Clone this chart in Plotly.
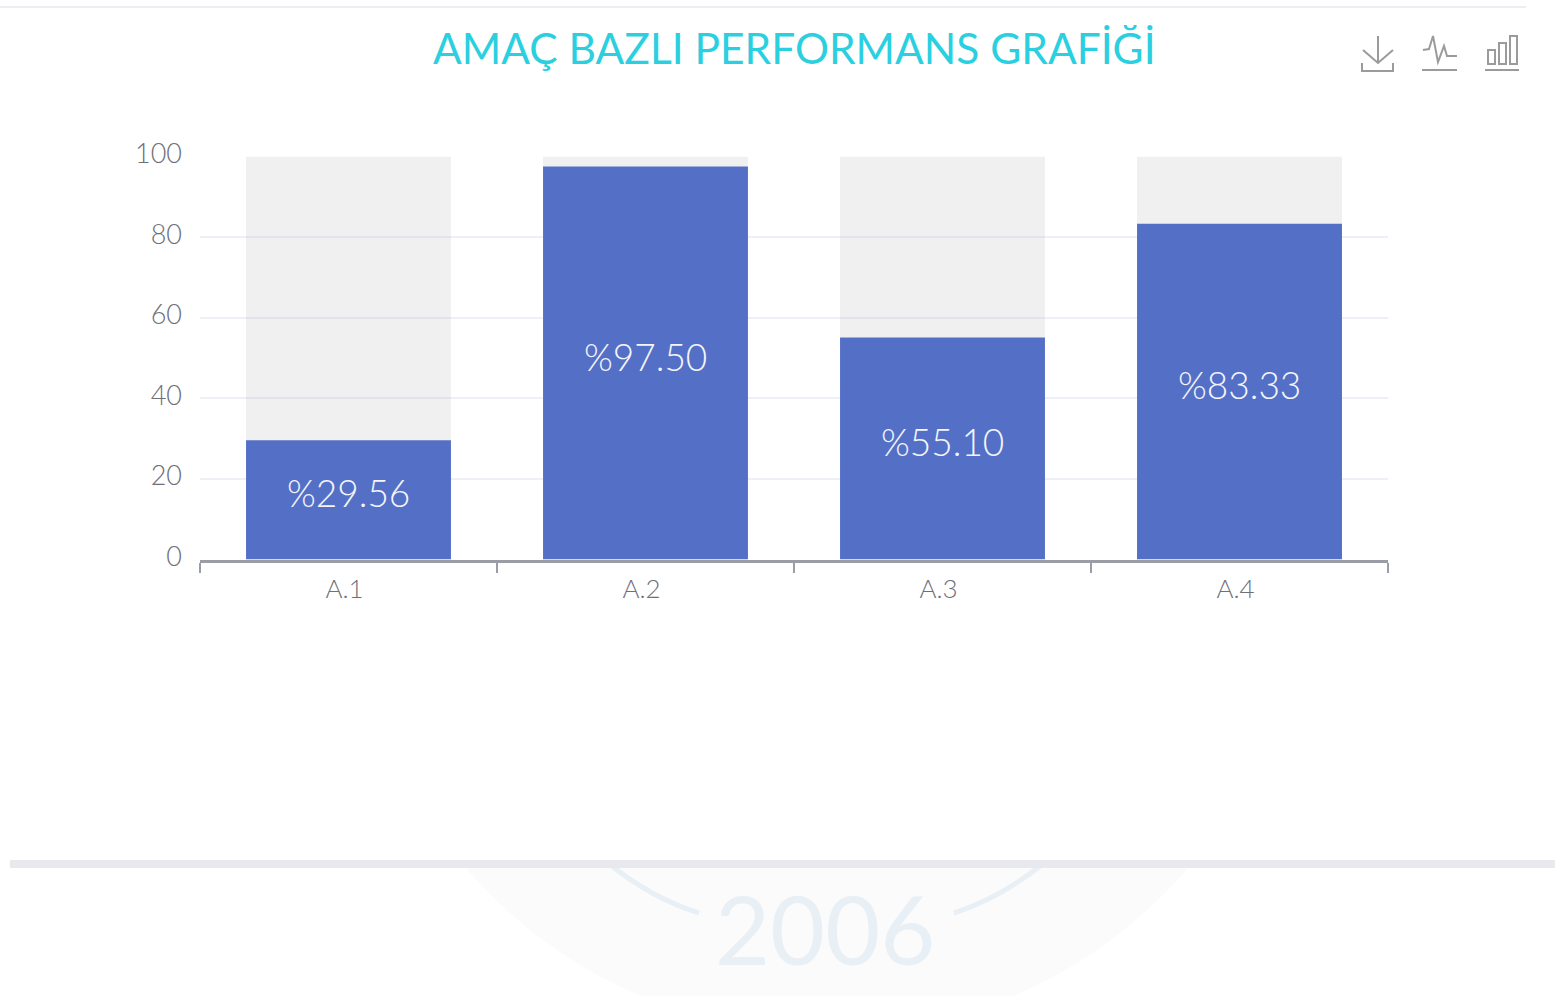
import plotly.graph_objects as go

categories = ["A.1", "A.2", "A.3", "A.4"]
values = [29.56, 97.50, 55.10, 83.33]
background = [100, 100, 100, 100]
y_ticks = [0, 20, 40, 60, 80, 100]
title_text = "AMAÇ BAZLI PERFORMANS GRAFİĞİ"
W, H = 1555, 996
FONT = "Lato, 'Open Sans', sans-serif"
labels = [f"%{v:.2f}" for v in values]


def px(x):
    return x / W


def py(y):
    return 1 - y / H


def path(d):
    out = []
    for tok in d:
        if isinstance(tok, str):
            out.append(tok)
        else:
            out.append(f"{px(tok[0]):.5f},{py(tok[1]):.5f}")
    return " ".join(out)


def line_shape(points, color, width, layer="above"):
    d = []
    for i, p in enumerate(points):
        d += ["M" if i == 0 else "L", p]
    return dict(type="path", xref="paper", yref="paper", path=path(d), layer=layer,
                line=dict(color=color, width=width))


def rect_shape(x0, y0, x1, y1, fill, layer="below", stroke=None, sw=0):
    return dict(type="rect", xref="paper", yref="paper", layer=layer,
                x0=px(x0), x1=px(x1), y0=py(y0), y1=py(y1), fillcolor=fill,
                line=dict(color=stroke or fill, width=sw))


ICON = "#9b9b9b"
shapes = [
    dict(type="circle", xref="paper", yref="paper", layer="below",
         x0=px(827 - 476), x1=px(827 + 476), y0=py(558 + 476), y1=py(558 - 476),
         fillcolor="#fbfbfc", line=dict(width=0)),
    rect_shape(0, 0, W, 860, "#ffffff"),
    dict(type="path", xref="paper", yref="paper", layer="below",
         path=path(["M", (612, 866), "Q", (652, 898), (699, 913)]),
         line=dict(color="#e8eff5", width=5)),
    dict(type="path", xref="paper", yref="paper", layer="below",
         path=path(["M", (1040, 866), "Q", (1000, 898), (954, 913)]),
         line=dict(color="#e8eff5", width=5)),
    rect_shape(10, 860, W, 868, "#e8e9ef"),
    rect_shape(0, 6, 1526, 8, "#eceef4"),
    line_shape([(1378, 36), (1378, 63)], ICON, 2),
    line_shape([(1363, 50), (1378, 63), (1393, 50)], ICON, 2),
    line_shape([(1362, 63), (1362, 71), (1393, 71), (1393, 63)], ICON, 2),
    line_shape([(1423, 50), (1429, 49), (1433, 36), (1438, 62), (1444, 46), (1447, 56), (1457, 56)], ICON, 2),
    line_shape([(1422, 70), (1457, 70)], ICON, 2),
    rect_shape(1488, 50, 1495, 64, "rgba(0,0,0,0)", "above", ICON, 2),
    rect_shape(1499, 43, 1506, 64, "rgba(0,0,0,0)", "above", ICON, 2),
    rect_shape(1510, 36, 1517, 64, "rgba(0,0,0,0)", "above", ICON, 2),
    line_shape([(1485, 70), (1519, 70)], ICON, 2),
]

fig = go.Figure()
fig.add_bar(x=categories, y=background, width=0.69,
            marker=dict(color="rgba(180,180,180,0.2)", line=dict(width=0)),
            hoverinfo="skip", showlegend=False)
fig.add_bar(x=categories, y=values, width=0.69,
            marker=dict(color="#5470c6", line=dict(width=0)),
            showlegend=False)

value_labels = [
    dict(text=t, x=c, y=v / 2, xref="x", yref="y", yshift=7, xanchor="center", yanchor="middle",
         showarrow=False, font=dict(color="#f4f5fb", size=37, family=FONT, weight=300))
    for c, v, t in zip(categories, values, labels)
]

fig.update_layout(
    width=W, height=H, autosize=False,
    margin=dict(l=0, r=0, t=0, b=0, pad=0),
    paper_bgcolor="#ffffff", plot_bgcolor="rgba(0,0,0,0)",
    barmode="overlay",
    font=dict(family=FONT, color="#6e7079"),
    shapes=shapes,
    annotations=value_labels + [
        dict(text=title_text, xref="paper", yref="paper", x=px(794), y=py(47),
             xanchor="center", yanchor="middle", showarrow=False,
             font=dict(family=FONT, size=42.5, color="#2bd0e0")),
        dict(text="2006", xref="paper", yref="paper", x=px(825), y=py(928),
             xanchor="center", yanchor="middle", showarrow=False,
             font=dict(family=FONT, size=95, color="#e8eff5")),
    ],
    xaxis=dict(domain=[px(200), px(1388)], type="category", range=[-0.5, 3.5], automargin=False,
               tickson="boundaries", ticks="outside", ticklen=10, tickwidth=2,
               tickcolor="#9a9ca6", showgrid=False, showline=True, linecolor="#9a9ca6",
               linewidth=3, tickfont=dict(size=26, color="#6e7079", weight=300), zeroline=False,
               ticklabelstandoff=4, ticklabelshift=-4, fixedrange=True),
    yaxis=dict(domain=[py(559.5), py(156.5)], range=[0, 100], tickvals=y_ticks, ticks="", automargin=False,
               showgrid=True, gridcolor="#eef0f8", gridwidth=2, zeroline=False,
               showline=False, tickfont=dict(size=27, color="#6e7079", weight=300),
               ticklabelstandoff=17, ticklabelshift=-3, fixedrange=True),
)

fig.write_html("out.html", config=dict(displayModeBar=False),
               post_script="document.body.style.margin='0';document.body.style.overflow='hidden';")
